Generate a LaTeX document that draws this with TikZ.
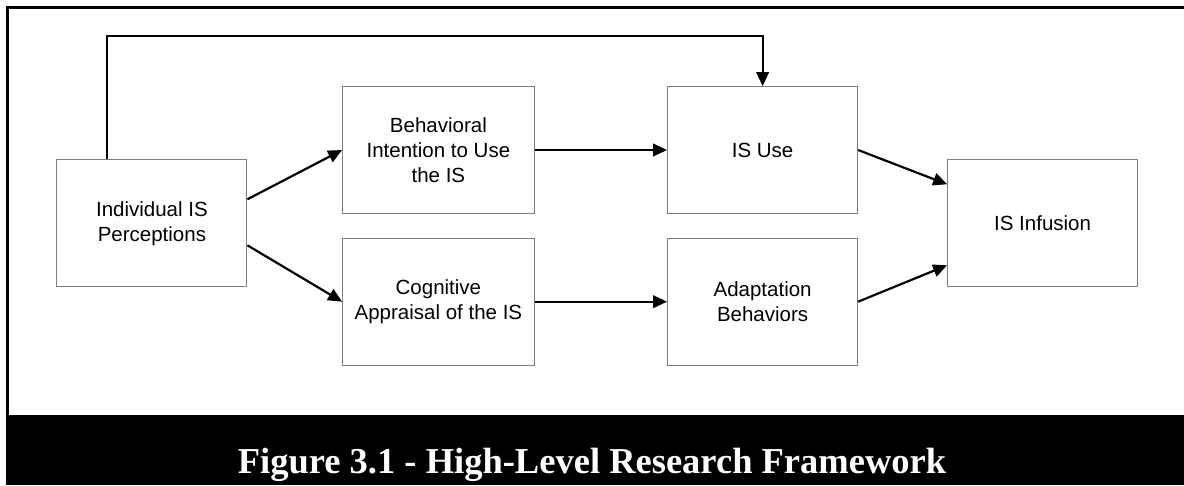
\documentclass[tikz,border=0pt]{standalone}
\usepackage{fontspec}
\setmainfont{Liberation Sans}
\newfontfamily\capfont{Liberation Serif}
\usetikzlibrary{arrows.meta}
\begin{document}
\begin{tikzpicture}[x=1pt,y=-1pt,
  box/.style={draw=black!50, line width=1pt, minimum width=190pt,
    minimum height=126.7pt, inner sep=0pt, align=center,
    font=\fontsize{20.5}{25}\selectfont},
  arr/.style={draw=black, line width=2.2pt,
    -{Triangle[length=14pt,width=12.5pt]}}]
  % canvas
  \useasboundingbox (0,0) rectangle (1184,485);
  \fill[white] (0,0) rectangle (1184,485);
  % frame and caption band
  \draw[line width=2.5pt] (7.25,485) -- (7.25,7.25) -- (1184,7.25);
  \fill[black] (6,415) rectangle (1184,485);
  \node[anchor=base, text=white, font=\capfont\bfseries\fontsize{36.5}{40}\selectfont]
    (cap) at (592,473) {Figure 3.1 - High-Level Research Framework};
  % boxes
  \node[box] (ind) at (151.9,223.3) {Individual IS\\Perceptions};
  \node[box, minimum width=191.5pt] (bi) at (438.4,150) {Behavioral\\Intention to Use\\the IS};
  \node[box, minimum width=191.5pt] (ca) at (438.4,301.7) {Cognitive\\Appraisal of the IS};
  \node[box] (use) at (762.6,150) {IS Use};
  \node[box] (ad) at (762.6,301.7) {Adaptation\\Behaviors};
  \node[box] (inf) at (1042.6,223.3) {IS Infusion};
  % connectors
  \coordinate (tap) at ([xshift=-45pt]ind.north);
  \coordinate (bus) at (0,36);
  \draw[arr] (tap) |- (bus -| use.north) -- (use.north);
  \draw[arr] ([yshift=24pt]ind.east) -- (bi.west);
  \draw[arr] ([yshift=-22pt]ind.east) -- (ca.west);
  \draw[arr] (bi.east) -- (use.west);
  \draw[arr] (ca.east) -- (ad.west);
  \draw[arr] (use.east) -- ([yshift=39pt]inf.west);
  \draw[arr] (ad.east) -- ([yshift=-42pt]inf.west);
\end{tikzpicture}
\end{document}
